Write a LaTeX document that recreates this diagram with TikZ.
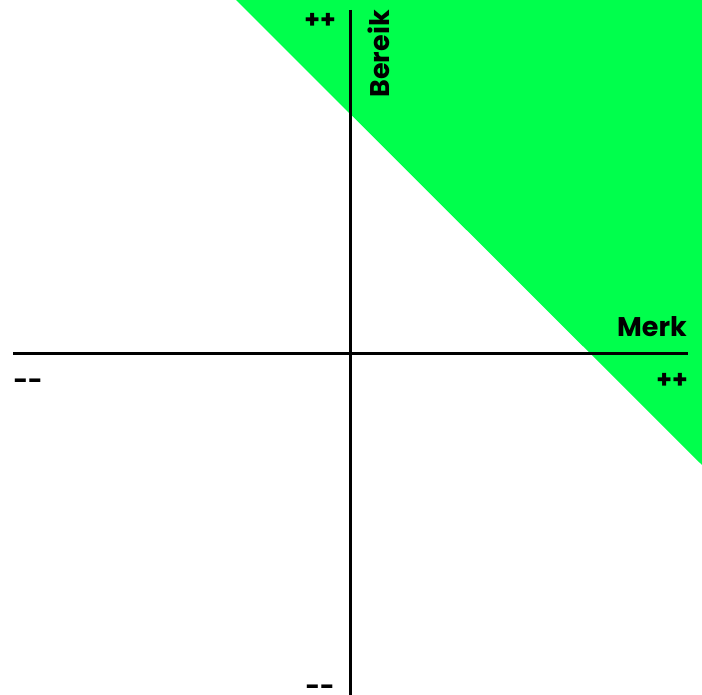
\documentclass[tikz,border=0pt]{standalone}
\usepackage{fontspec}
\setmainfont{Poppins}[BoldFont={* Bold}]
\definecolor{brightgreen}{RGB}{0,255,76}
\begin{document}
\begin{tikzpicture}[x=1pt,y=-1pt,
  axis/.style={line width=3pt,black},
  lbl/.style={font=\fontsize{27}{30}\selectfont\bfseries,inner sep=0pt},
  sgn/.style={font=\fontsize{25}{26}\selectfont\bfseries,inner sep=0pt}]
\useasboundingbox (0,0) rectangle (702,695);
\fill[brightgreen] (236,0) -- (702,0) -- (702,465) -- cycle;
\coordinate (xl) at (13,353);
\coordinate (xr) at (688,353);
\coordinate (yt) at (350,10);
\coordinate (yb) at (350,695);
\draw[axis] (xl) -- (xr);
\draw[axis] (yt) -- (yb);
\node[lbl,anchor=base east] (merk) at (687,336) {Merk};
\node[lbl,anchor=base east,rotate=90] (bereik) at (389,10) {Bereik};
\node[sgn] (pt) at (320,21) {++};
\node[sgn] (pr) at (672,381) {++};
\node[sgn] (ml) at (28,384) {{-}{-}};
\node[sgn] (mb) at (320,690) {{-}{-}};
\end{tikzpicture}
\end{document}
